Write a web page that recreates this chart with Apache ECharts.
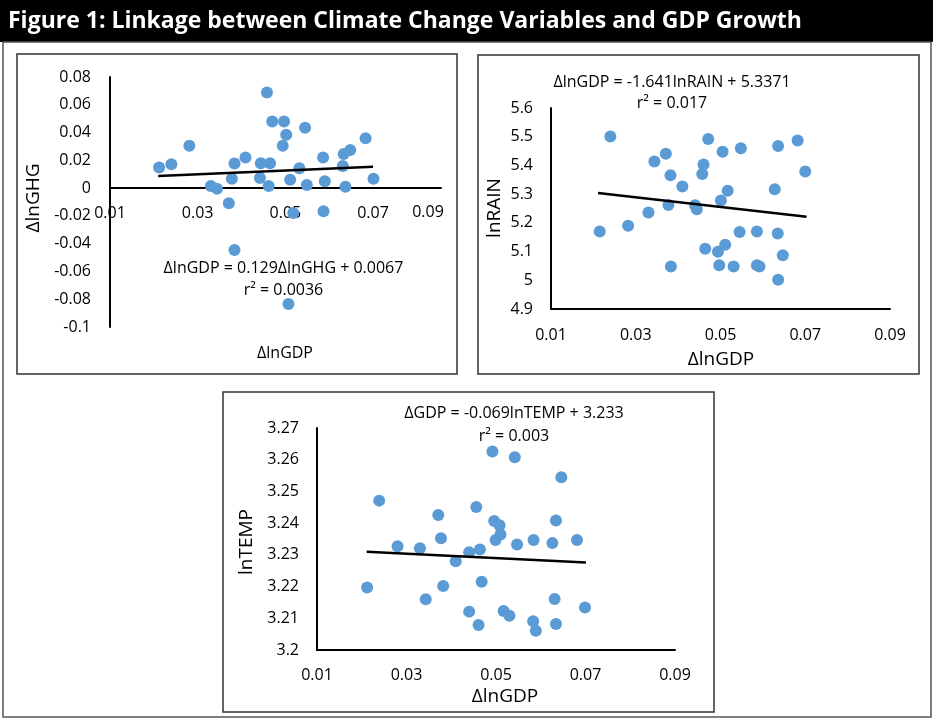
<!DOCTYPE html>
<html><head><meta charset="utf-8">
<script src="https://cdn.jsdelivr.net/npm/echarts@6/dist/echarts.min.js"></script>
<style>html,body{margin:0;padding:0;background:#fff}#c{width:933px;height:718px}</style>
</head><body><div id="c"></div>
<script>
// Panel 1: ΔlnGDP vs ΔlnGHG
const gdp1 = [0.0212,0.0240,0.0281,0.0330,0.0344,0.0371,0.0378,0.0384,0.0409,0.0444,0.0442,0.0458,0.0465,0.0462,0.0470,0.0497,0.0502,0.0494,0.0511,0.0532,0.0545,0.0549,0.0586,0.0590,0.0633,0.0648,0.0631,0.0637,0.0683,0.0701,0.0587,0.0518,0.0384,0.0507];
const dlnGHG = [0.0148,0.0172,0.0305,0.0015,-0.0005,-0.0109,0.0068,0.0177,0.0220,0.0179,0.0073,0.0689,0.0179,0.0015,0.0480,0.0480,0.0385,0.0305,0.0060,0.0143,0.0434,0.0022,0.0220,0.0049,0.0245,0.0274,0.0160,0.0009,0.0359,0.0068,-0.0167,-0.0180,-0.0446,-0.0834];
const trend1X = [0.021, 0.070];
const trend1Y = [0.0088, 0.0153];

// Panel 2: ΔlnGDP vs lnRAIN
const gdp2 = [0.0215,0.0240,0.0282,0.0330,0.0344,0.0371,0.0377,0.0382,0.0383,0.0410,0.0440,0.0444,0.0457,0.0460,0.0464,0.0471,0.0494,0.0497,0.0501,0.0505,0.0511,0.0517,0.0531,0.0545,0.0548,0.0586,0.0586,0.0592,0.0628,0.0635,0.0636,0.0636,0.0647,0.0682,0.0700];
const lnRAIN = [5.170,5.501,5.190,5.236,5.414,5.441,5.262,5.366,5.048,5.327,5.261,5.247,5.370,5.403,5.110,5.492,5.099,5.052,5.278,5.448,5.124,5.312,5.048,5.168,5.460,5.170,5.052,5.048,5.317,5.163,5.468,5.002,5.087,5.487,5.379];
const trend2X = [0.0211, 0.0703];
const trend2Y = [5.304, 5.221];

// Panel 3: ΔlnGDP vs lnTEMP
const gdp3 = [0.0212,0.0239,0.0280,0.0330,0.0343,0.0371,0.0377,0.0382,0.0410,0.0440,0.0440,0.0456,0.0461,0.0464,0.0468,0.0492,0.0496,0.0499,0.0508,0.0510,0.0517,0.0530,0.0542,0.0547,0.0583,0.0584,0.0589,0.0626,0.0631,0.0634,0.0634,0.0646,0.0681,0.0699];
const lnTEMP = [3.2197,3.2471,3.2327,3.2321,3.2160,3.2426,3.2352,3.2202,3.2280,3.2308,3.2121,3.2451,3.2079,3.2317,3.2215,3.2626,3.2407,3.2347,3.2393,3.2364,3.2123,3.2108,3.2608,3.2333,3.2091,3.2347,3.2061,3.2337,3.2161,3.2408,3.2082,3.2545,3.2347,3.2134];
const trend3X = [0.0211, 0.0701];
const trend3Y = [3.2310, 3.2276];

const titleText = 'Figure 1: Linkage between Climate Change Variables and GDP Growth';
const eq1 = 'ΔlnGDP = 0.129ΔlnGHG + 0.0067', r1 = 'r² = 0.0036';
const eq2 = 'ΔlnGDP = -1.641lnRAIN + 5.3371', r2 = 'r² = 0.017';
const eq3 = 'ΔGDP = -0.069lnTEMP + 3.233', r3 = 'r² = 0.003';

const FONT = "'Open Sans', sans-serif";
const zip = (a, b) => a.map((v, i) => [v, b[i]]);

// Panel 1 geometry: x axis crosses at y = 0
const g1 = { left: 110, top: 77, width: 331, height: 250 };
const y1Min = -0.1, y1Max = 0.08;
const x1Offset = -(g1.height * (0 - y1Min) / (y1Max - y1Min));

function xAx(idx, min, max, margin, offset, showMax) {
  return { gridIndex: idx, type: 'value', min: min, max: max, interval: 0.02,
    position: 'bottom', offset: offset || 0,
    axisLine: { onZero: false, lineStyle: { color: '#000', width: 2 } },
    axisTick: { show: false }, splitLine: { show: false },
    axisLabel: { fontSize: 16, color: '#000', fontFamily: FONT, margin: margin, showMaxLabel: showMax, showMinLabel: true } };
}
function yAx(idx, min, max, interval, margin) {
  return { gridIndex: idx, type: 'value', min: min, max: max, interval: interval,
    axisLine: { show: true, onZero: false, lineStyle: { color: '#000', width: 2 } },
    axisTick: { show: false }, splitLine: { show: false },
    axisLabel: { fontSize: 16, color: '#000', fontFamily: FONT, margin: margin } };
}
function scat(i, data) {
  return { type: 'scatter', xAxisIndex: i, yAxisIndex: i, data: data, symbolSize: 12,
    itemStyle: { color: '#5B9BD5', opacity: 1 }, z: 2, silent: true };
}
function trend(i, xs, ys) {
  return { type: 'line', xAxisIndex: i, yAxisIndex: i, data: zip(xs, ys), showSymbol: false,
    lineStyle: { color: '#000', width: 2.5 }, z: 3, silent: true };
}
function txt(x, y, s, size, opts) {
  return Object.assign({ type: 'text', x: x, y: y, z: 10,
    style: { text: s, fontSize: size, fontFamily: FONT, fill: '#000', align: 'center', verticalAlign: 'middle' } }, opts || {});
}
function box(x, y, w, h, stroke, lw) {
  return { type: 'rect', shape: { x: x, y: y, width: w, height: h }, z: 0,
    style: { fill: 'none', stroke: stroke, lineWidth: lw } };
}

const chart = echarts.init(document.getElementById('c'), null, { renderer: 'canvas' });
chart.setOption({
  backgroundColor: '#fff',
  animation: false,
  grid: [
    g1,
    { left: 551, top: 108, width: 339, height: 201 },
    { left: 317, top: 428, width: 358, height: 222 }
  ],
  xAxis: [ xAx(0, 0.01, 0.0855, 17, x1Offset, false), xAx(1, 0.01, 0.09, 18, 0, true), xAx(2, 0.01, 0.09, 17, 0, true) ],
  yAxis: [ yAx(0, y1Min, y1Max, 0.02, 19), yAx(1, 4.9, 5.6, 0.1, 18), yAx(2, 3.2, 3.27, 0.01, 18) ],
  series: [
    scat(0, zip(gdp1, dlnGHG)), trend(0, trend1X, trend1Y),
    scat(1, zip(gdp2, lnRAIN)), trend(1, trend2X, trend2Y),
    scat(2, zip(gdp3, lnTEMP)), trend(2, trend3X, trend3Y)
  ],
  graphic: [
    { type: 'rect', shape: { x: 0, y: 0, width: 933, height: 42 }, style: { fill: '#000' }, z: 0 },
    { type: 'text', x: 8, y: 21, z: 10, style: { text: titleText, fontSize: 23, fontWeight: 'bold', fontFamily: FONT, fill: '#fff', align: 'left', verticalAlign: 'middle' } },
    box(3, 42, 928, 675, '#555', 1.5),
    box(17, 54, 440, 320, '#333', 1.5),
    box(478, 55, 441, 319, '#333', 1.5),
    box(223, 392, 491, 320, '#333', 1.5),
    txt(283.5, 268, eq1, 16), txt(283.5, 290, r1, 16),
    txt(672, 82, eq2, 16), txt(672, 103, r2, 16),
    txt(514, 413, eq3, 16), txt(514, 436, r3, 16),
    txt(428, 212, '0.09', 16),
    txt(285, 353, 'ΔlnGDP', 16),
    txt(721, 360, 'ΔlnGDP', 19),
    txt(505, 697, 'ΔlnGDP', 19),
    txt(34, 198, 'ΔlnGHG', 19, { rotation: Math.PI / 2 }),
    txt(495, 208, 'lnRAIN', 19, { rotation: Math.PI / 2 }),
    txt(247, 542, 'lnTEMP', 19, { rotation: Math.PI / 2 })
  ]
});
</script>
</body></html>
